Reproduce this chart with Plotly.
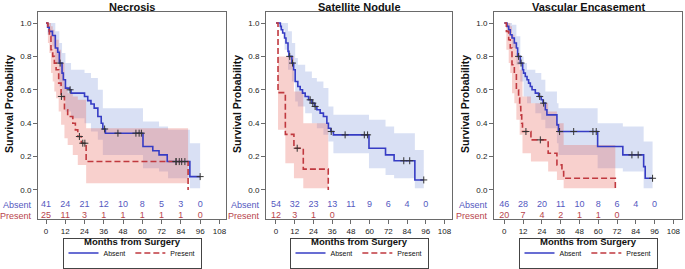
import numpy as np
import plotly.graph_objects as go

# ---------------- data ----------------
MONTH_TICKS = [0, 12, 24, 36, 48, 60, 72, 84, 96, 108]
Y_TICKS = [0.0, 0.2, 0.4, 0.6, 0.8, 1.0]
RISK_MONTHS = [0, 12, 24, 36, 48, 60, 72, 84, 96]
TITLES = ["Necrosis", "Satellite Nodule", "Vascular Encasement"]
GROUPS = ["Absent", "Present"]

# Necrosis - Absent
nec_abs_t = [0, 1, 2, 4, 5.8, 7.3, 8.3, 10, 10.8, 12.1, 14.6, 15.6, 24, 26, 28, 30, 32.3, 34.4, 35.4, 37, 60.4, 66.5, 70.4, 75.5, 89.6, 96]
nec_abs_s = [1.0, 0.975, 0.95, 0.925, 0.85, 0.825, 0.76, 0.70, 0.66, 0.61, 0.60, 0.58, 0.56, 0.535, 0.515, 0.49, 0.44, 0.40, 0.365, 0.34, 0.26, 0.235, 0.21, 0.17, 0.08, 0.08]
nec_abs_cens = [8.8, 15, 36.5, 44.8, 56, 58, 59.4, 81, 83, 86.5, 96]
nec_abs_ci_t = [0, 1, 4, 5.8, 8.3, 10, 12.1, 15.6, 24, 28, 32.3, 35.4, 60.4, 70.4, 76, 89.6, 96]
nec_abs_ci_hi = [1.0, 1.0, 1.0, 0.95, 0.88, 0.82, 0.76, 0.72, 0.70, 0.67, 0.60, 0.49, 0.41, 0.38, 0.36, 0.28, 0.28]
nec_abs_ci_lo = [1.0, 0.93, 0.86, 0.76, 0.62, 0.55, 0.47, 0.43, 0.40, 0.35, 0.30, 0.21, 0.13, 0.11, 0.07, 0.01, 0.01]
# Necrosis - Present
nec_pre_t = [0, 1.2, 2.1, 3.1, 4.2, 5.2, 6.3, 7.9, 9.4, 11.5, 13.5, 16.7, 18.3, 19.8, 22, 25, 88.5]
nec_pre_s = [1.0, 0.96, 0.92, 0.84, 0.80, 0.76, 0.72, 0.64, 0.56, 0.48, 0.44, 0.40, 0.36, 0.32, 0.28, 0.17, 0.0]
nec_pre_cens = [9.6, 20.8, 22.9, 24.2, 81, 84.5]
nec_pre_ci_t = [0, 1.2, 2.1, 3.1, 4.2, 5.2, 6.3, 7.9, 9.4, 11.5, 13.5, 16.7, 19.8, 25, 88.5]
nec_pre_ci_hi = [1.0, 1.0, 1.0, 0.98, 0.96, 0.93, 0.90, 0.84, 0.76, 0.62, 0.58, 0.56, 0.54, 0.37, 0.37]
nec_pre_ci_lo = [1.0, 0.88, 0.82, 0.70, 0.65, 0.59, 0.55, 0.47, 0.39, 0.31, 0.27, 0.21, 0.15, 0.04, 0.04]
nec_risk_abs = [41, 24, 21, 12, 10, 8, 5, 3, 0]
nec_risk_pre = [25, 11, 3, 1, 1, 1, 1, 1, 0]

# Satellite Nodule - Absent
sat_abs_t = [0, 2.8, 3.4, 4.3, 5.5, 6.4, 7.7, 8.3, 10.2, 11.3, 12.3, 14, 15.5, 17, 18.7, 20.9, 23, 24.7, 26.2, 28.3, 30.4, 32.6, 33.6, 35.1, 36.8, 59.6, 70.2, 75.7, 89, 94.7]
sat_abs_s = [1.0, 0.98, 0.96, 0.94, 0.91, 0.88, 0.83, 0.80, 0.76, 0.72, 0.65, 0.62, 0.60, 0.58, 0.56, 0.54, 0.52, 0.50, 0.48, 0.46, 0.44, 0.40, 0.37, 0.35, 0.33, 0.25, 0.21, 0.175, 0.06, 0.06]
sat_abs_cens = [8.8, 10.6, 21.9, 23.6, 25.1, 35.4, 44.3, 56.6, 58.7, 81.9, 85.7, 94.7]
sat_abs_ci_t = [0, 2.8, 5.5, 7.7, 10.2, 12.3, 14, 18.7, 23, 26.2, 30.4, 33.6, 36.8, 59.6, 70.2, 75.7, 89, 94.7]
sat_abs_ci_hi = [1.0, 1.0, 1.0, 0.95, 0.88, 0.79, 0.75, 0.71, 0.67, 0.65, 0.61, 0.50, 0.45, 0.42, 0.38, 0.34, 0.24, 0.24]
sat_abs_ci_lo = [1.0, 0.96, 0.84, 0.72, 0.65, 0.53, 0.50, 0.46, 0.40, 0.37, 0.33, 0.29, 0.22, 0.13, 0.09, 0.07, 0.01, 0.01]
# Satellite Nodule - Present
sat_pre_t = [0, 1.3, 6, 11.5, 17.5, 33.5]
sat_pre_s = [1.0, 0.583, 0.333, 0.25, 0.125, 0.0]
sat_pre_cens = [13.6]
sat_pre_ci_t = [0, 1.3, 6, 11.5, 17.5, 33.5]
sat_pre_ci_hi = [1.0, 0.80, 0.80, 0.59, 0.40, 0.40]
sat_pre_ci_lo = [1.0, 0.36, 0.16, 0.07, 0.01, 0.01]
sat_risk_abs = [54, 32, 23, 13, 11, 9, 6, 4, 0]
sat_risk_pre = [12, 3, 1, 0]

# Vascular Encasement - Absent
vas_abs_t = [0, 1.7, 2.8, 3.8, 4.9, 6.4, 7.7, 8.5, 10.2, 11.7, 12.3, 13.4, 14.5, 15.5, 16.6, 17.7, 19.8, 21.9, 23.6, 24.7, 26.2, 27.2, 33.6, 34.6, 59.6, 75.7, 89, 90, 94.7]
vas_abs_s = [1.0, 0.98, 0.96, 0.93, 0.91, 0.88, 0.85, 0.80, 0.76, 0.72, 0.70, 0.68, 0.66, 0.64, 0.62, 0.60, 0.58, 0.56, 0.54, 0.52, 0.48, 0.45, 0.39, 0.35, 0.26, 0.21, 0.14, 0.07, 0.07]
vas_abs_cens = [9.1, 10.7, 22.6, 25.1, 35.3, 44.3, 56.6, 58.7, 81.5, 85.5, 94.7]
vas_abs_ci_t = [0, 1.7, 4.9, 7.7, 10.2, 12.3, 14.5, 19.8, 23.6, 26.2, 33.6, 34.6, 59.6, 75.7, 89, 94.7]
vas_abs_ci_hi = [1.0, 1.0, 0.99, 0.92, 0.80, 0.76, 0.72, 0.70, 0.66, 0.59, 0.52, 0.49, 0.40, 0.38, 0.29, 0.29]
vas_abs_ci_lo = [1.0, 0.94, 0.85, 0.75, 0.65, 0.56, 0.52, 0.46, 0.42, 0.37, 0.28, 0.21, 0.13, 0.11, 0.01, 0.01]
# Vascular Encasement - Present
vas_pre_t = [0, 1.3, 2.8, 3.8, 4.9, 6.4, 7.7, 9.1, 9.8, 10.5, 11.1, 11.6, 17, 28, 33.6, 36.8, 37.9, 70.9]
vas_pre_s = [1.0, 0.95, 0.90, 0.85, 0.75, 0.70, 0.60, 0.55, 0.50, 0.45, 0.40, 0.35, 0.30, 0.22, 0.15, 0.11, 0.07, 0.0]
vas_pre_cens = [13.8, 23]
vas_pre_ci_t = [0, 1.3, 2.8, 3.8, 4.9, 6.4, 7.7, 9.8, 11.6, 17, 28, 33.6, 37.9, 70.9]
vas_pre_ci_hi = [1.0, 1.0, 1.0, 0.98, 0.93, 0.89, 0.82, 0.72, 0.56, 0.52, 0.47, 0.40, 0.27, 0.27]
vas_pre_ci_lo = [1.0, 0.84, 0.76, 0.70, 0.58, 0.52, 0.42, 0.33, 0.22, 0.17, 0.11, 0.06, 0.01, 0.01]
vas_risk_abs = [46, 28, 20, 11, 10, 8, 6, 4, 0]
vas_risk_pre = [20, 7, 4, 2, 1, 1, 0]

# ---------------- style / layout ----------------
W, H = 685, 269
FONT = "Liberation Sans, Arial, sans-serif"
BLUE = "#363cc4"
RED = "#c0393f"
BLUE_TXT = "#5458c0"
RED_TXT = "#b8444c"
BLUE_FILL = "rgba(120,145,215,0.28)"
RED_FILL = "rgba(232,100,90,0.30)"
FRAME = "#6a6a6a"

BOX_LEFT = [38, 266, 494]
BOX_RIGHT = [226, 452, 682]
BOX_TOP, BOX_BOTTOM = 12, 219
X_RANGES = [[-4.98, 112.1], [-6.4, 112.8], [-6.6, 113.5]]
Y_RANGE = [-0.174, 1.066]
ROW_ABS_Y, ROW_PRE_Y = -0.089, -0.155

panels = [
    dict(abs=(nec_abs_t, nec_abs_s, nec_abs_cens, nec_abs_ci_t, nec_abs_ci_lo, nec_abs_ci_hi),
         pre=(nec_pre_t, nec_pre_s, nec_pre_cens, nec_pre_ci_t, nec_pre_ci_lo, nec_pre_ci_hi),
         risk=(nec_risk_abs, nec_risk_pre)),
    dict(abs=(sat_abs_t, sat_abs_s, sat_abs_cens, sat_abs_ci_t, sat_abs_ci_lo, sat_abs_ci_hi),
         pre=(sat_pre_t, sat_pre_s, sat_pre_cens, sat_pre_ci_t, sat_pre_ci_lo, sat_pre_ci_hi),
         risk=(sat_risk_abs, sat_risk_pre)),
    dict(abs=(vas_abs_t, vas_abs_s, vas_abs_cens, vas_abs_ci_t, vas_abs_ci_lo, vas_abs_ci_hi),
         pre=(vas_pre_t, vas_pre_s, vas_pre_cens, vas_pre_ci_t, vas_pre_ci_lo, vas_pre_ci_hi),
         risk=(vas_risk_abs, vas_risk_pre)),
]


def step_at(t, s, c):
    t = np.asarray(t, float)
    s = np.asarray(s, float)
    idx = np.searchsorted(t, np.asarray(c, float), side="right") - 1
    return s[np.clip(idx, 0, len(s) - 1)]


fig = go.Figure()
annotations = []
layout_axes = {}

for i, p in enumerate(panels):
    n = "" if i == 0 else str(i + 1)
    xa, ya = "x" + n, "y" + n
    leg = "legend" + n

    # confidence bands (absent first, then present over it)
    for key, fill in (("abs", BLUE_FILL), ("pre", RED_FILL)):
        t, s, cens, ct, lo, hi = p[key]
        fig.add_trace(go.Scatter(x=ct, y=lo, mode="lines", line=dict(width=0, shape="hv"),
                                 hoverinfo="skip", showlegend=False, xaxis=xa, yaxis=ya))
        fig.add_trace(go.Scatter(x=ct, y=hi, mode="lines", line=dict(width=0, shape="hv"),
                                 fill="tonexty", fillcolor=fill, hoverinfo="skip",
                                 showlegend=False, xaxis=xa, yaxis=ya))

    # survival curves
    for key, col, dash, name in (("abs", BLUE, "solid", "Absent"), ("pre", RED, "6px,3px", "Present")):
        t, s, cens, ct, lo, hi = p[key]
        fig.add_trace(go.Scatter(x=t, y=s, mode="lines", name=name,
                                 line=dict(color=col, width=1.6, shape="hv", dash=dash),
                                 xaxis=xa, yaxis=ya, legend=leg, showlegend=True))
    # censor marks
    for key in ("abs", "pre"):
        t, s, cens, ct, lo, hi = p[key]
        fig.add_trace(go.Scatter(x=cens, y=step_at(t, s, cens), mode="markers",
                                 marker=dict(symbol="cross-thin", size=5,
                                             line=dict(color="#333333", width=1)),
                                 showlegend=False, xaxis=xa, yaxis=ya))

    # numbers at risk
    ra, rp = p["risk"]
    fig.add_trace(go.Scatter(x=RISK_MONTHS[:len(ra)], y=[ROW_ABS_Y] * len(ra), mode="text",
                             text=[str(v) for v in ra], textposition="middle center",
                             textfont=dict(family=FONT, size=9, color=BLUE_TXT),
                             showlegend=False, hoverinfo="skip", xaxis=xa, yaxis=ya))
    fig.add_trace(go.Scatter(x=RISK_MONTHS[:len(rp)], y=[ROW_PRE_Y] * len(rp), mode="text",
                             text=[str(v) for v in rp], textposition="middle center",
                             textfont=dict(family=FONT, size=9, color=RED_TXT),
                             showlegend=False, hoverinfo="skip", xaxis=xa, yaxis=ya))

    xdom = [BOX_LEFT[i] / W, BOX_RIGHT[i] / W]
    ydom = [1 - BOX_BOTTOM / H, 1 - BOX_TOP / H]
    layout_axes["xaxis" + n] = dict(
        domain=xdom, range=X_RANGES[i], anchor=ya, tickvals=MONTH_TICKS,
        ticks="outside", ticklen=4, tickcolor=FRAME, showline=True, mirror=True,
        linecolor=FRAME, linewidth=1, showgrid=False, zeroline=False,
        ticklabeloverflow="allow", automargin=False,
        tickfont=dict(family=FONT, size=8, color="#222222"))
    layout_axes["yaxis" + n] = dict(
        domain=ydom, range=Y_RANGE, anchor=xa, tickvals=Y_TICKS,
        ticktext=["%.1f" % v for v in Y_TICKS],
        ticks="outside", ticklen=4, tickcolor=FRAME, showline=True, mirror=True,
        linecolor=FRAME, linewidth=1, showgrid=False, zeroline=False, automargin=False,
        tickfont=dict(family=FONT, size=8, color="#222222"))

    cx = (BOX_LEFT[i] + BOX_RIGHT[i]) / 2 / W
    annotations.append(dict(text="<b>%s</b>" % TITLES[i], x=cx, y=1 - 6.5 / H, xref="paper", yref="paper",
                            showarrow=False, xanchor="center", yanchor="middle",
                            font=dict(family=FONT, size=11, color="#111111")))
    annotations.append(dict(text="<b>Months from Surgery</b>", x=cx, y=1 - 241 / H, xref="paper",
                            yref="paper", showarrow=False, xanchor="center", yanchor="middle",
                            font=dict(family=FONT, size=9.5, color="#111111")))
    annotations.append(dict(text="<b>Survival Probability</b>", x=(BOX_LEFT[i] - 29) / W, y=1 - 104 / H,
                            xref="paper", yref="paper", showarrow=False, textangle=-90,
                            xanchor="center", yanchor="middle",
                            font=dict(family=FONT, size=10.5, color="#111111")))
    for lbl, yy, col in (("Absent", ROW_ABS_Y, BLUE_TXT), ("Present", ROW_PRE_Y, RED_TXT)):
        annotations.append(dict(text=lbl, x=(BOX_LEFT[i] - 4) / W, y=yy, xref="paper", yref=ya,
                                showarrow=False, xanchor="right", yanchor="middle",
                                font=dict(family=FONT, size=9, color=col)))
    layout_axes[leg] = dict(orientation="h", x=cx, xanchor="center", y=1 - 268.5 / H, yanchor="bottom",
                            bordercolor="#444444", borderwidth=1, bgcolor="white",
                            font=dict(family=FONT, size=7, color="#111111"),
                            itemwidth=30, tracegroupgap=0, traceorder="normal")

fig.update_layout(width=W, height=H, margin=dict(l=0, r=0, t=0, b=0, autoexpand=False),
                  paper_bgcolor="white", plot_bgcolor="white",
                  annotations=annotations, font=dict(family=FONT), **layout_axes)

fig.write_html("out.html", config={"displayModeBar": False},
               post_script="document.body.style.margin='0';document.body.style.overflow='hidden';")
